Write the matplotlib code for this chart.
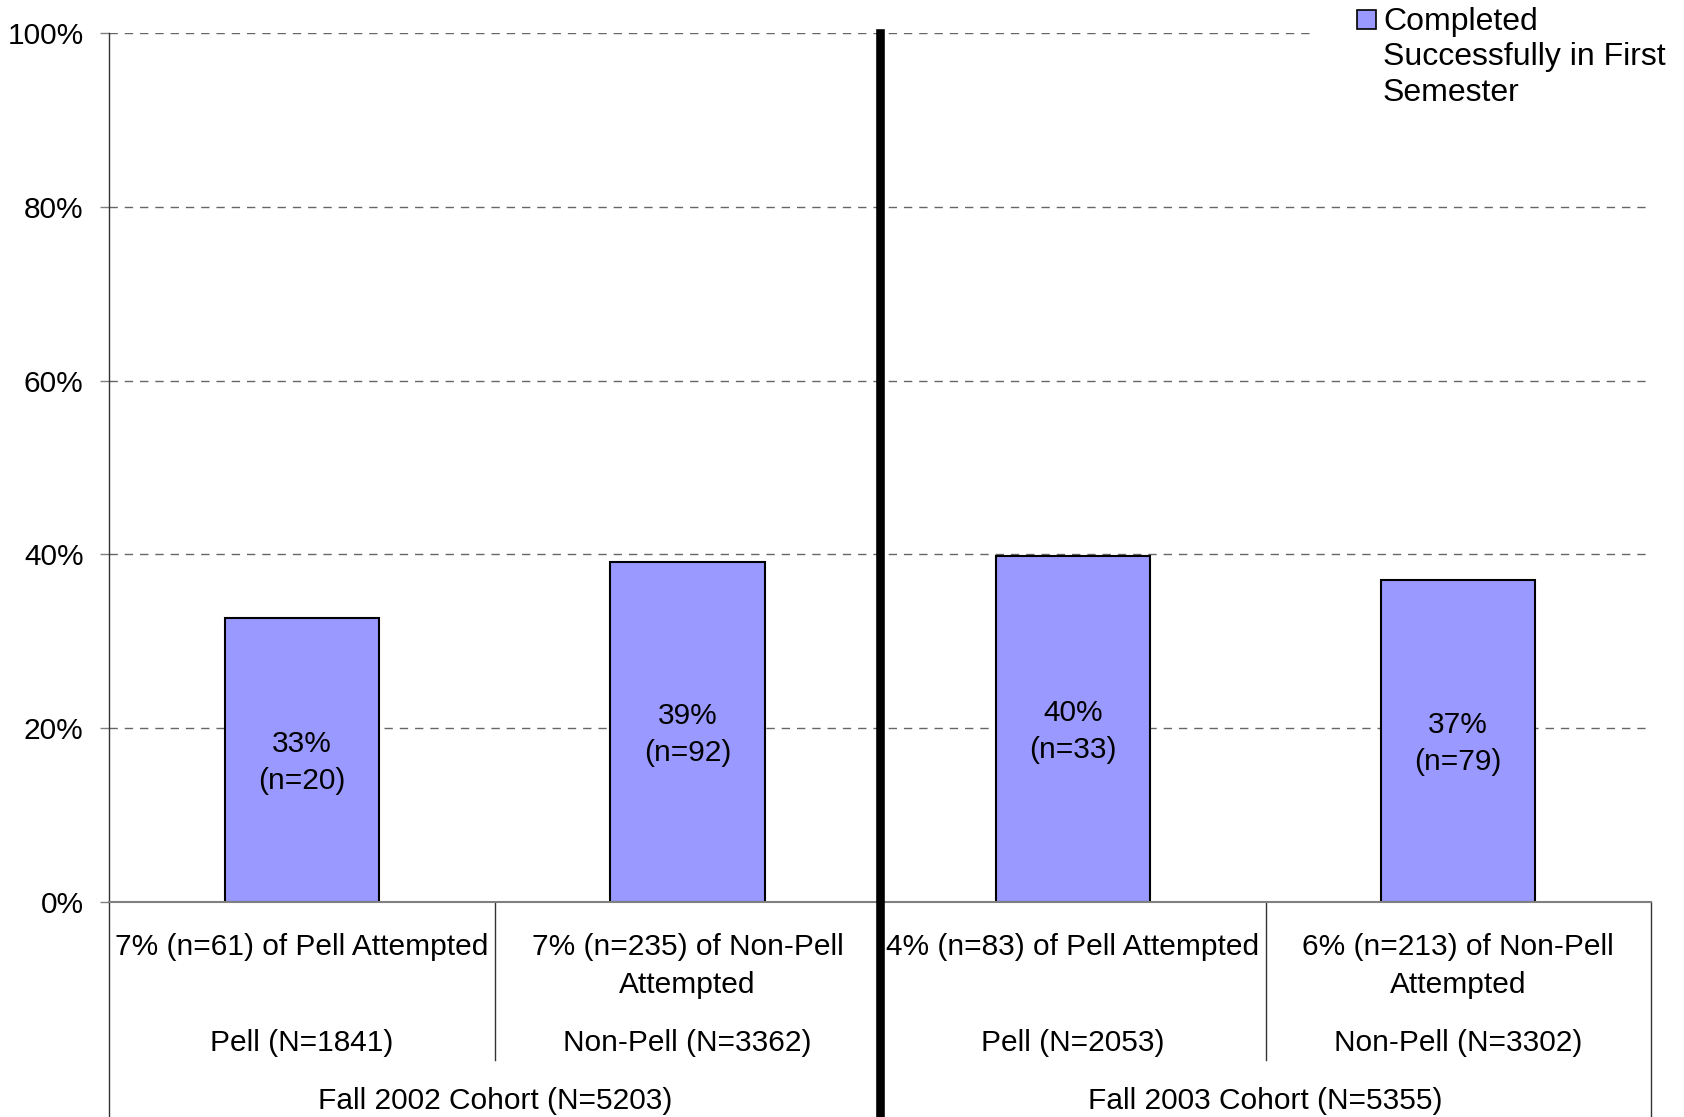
import numpy as np
import matplotlib.pyplot as plt
from matplotlib.patches import Rectangle

plt.rcParams['font.family'] = ['Liberation Sans', 'DejaVu Sans']

# completion rate (%) and count per group
completed = [32.7, 39.1, 39.8, 37.05]
counts = [20, 92, 33, 79]
attempted = ['7% (n=61) of Pell Attempted',
             '7% (n=235) of Non-Pell\nAttempted',
             '4% (n=83) of Pell Attempted',
             '6% (n=213) of Non-Pell\nAttempted']
groups = ['Pell (N=1841)', 'Non-Pell (N=3362)', 'Pell (N=2053)', 'Non-Pell (N=3302)']
cohorts = ['Fall 2002 Cohort (N=5203)', 'Fall 2003 Cohort (N=5355)']
yticks = [0, 20, 40, 60, 80, 100]
legend_label = 'Completed\nSuccessfully in First\nSemester'

W, H = 1684, 1117
fig = plt.figure(figsize=(W / 100, H / 100), dpi=100)
ax = fig.add_axes([109.3 / W, 1 - 902 / H, (1651 - 109.3) / W, 869 / H])

x = np.arange(len(completed))
ax.bar(x, completed, width=0.4, color='#9999ff', edgecolor='black', linewidth=1.5, zorder=2)
for i, v in enumerate(completed):
    ax.text(i, v / 2 - 0.3, f'{round(v)}%\n(n={counts[i]})', ha='center', va='center',
            fontsize=21.5, linespacing=1.4, zorder=3)

ax.set_xlim(-0.5, 3.5)
ax.set_ylim(0, 100)
ax.set_yticks(yticks)
ax.set_yticklabels([f'{t}%' for t in yticks])
ax.tick_params(axis='y', length=6.5, width=1, color='#808080', pad=12, labelsize=21.5)
ax.set_xticks([])
ax.yaxis.grid(True, linestyle=(0, (6, 5)), color='#666666', linewidth=1)
ax.set_axisbelow(True)
for s in ['top', 'right']:
    ax.spines[s].set_visible(False)
ax.spines['bottom'].set_color('#808080')
ax.spines['bottom'].set_linewidth(1.5)
ax.spines['left'].set_color('#333333')
ax.spines['left'].set_linewidth(1)

# multi-level category axis below the plot
trans = ax.get_xaxis_transform()
for xv in [-0.5, 3.5]:
    ax.plot([xv, xv], [0, -0.3], transform=trans, color='#333333', lw=1, clip_on=False)
for xv in [0.5, 2.5]:
    ax.plot([xv, xv], [0, -0.182], transform=trans, color='#333333', lw=1, clip_on=False)
ax.plot([1.5, 1.5], [1, -0.3], transform=trans, color='black', lw=6.2, clip_on=False, zorder=4)

line_step = 38 / 869  # distance between wrapped lines, in axes units
for i in range(len(attempted)):
    for k, line in enumerate(attempted[i].split('\n')):
        ax.text(i, -0.061 - k * line_step, line, transform=trans, ha='center',
                va='baseline', fontsize=21.5)
    ax.text(i, -0.1715, groups[i], transform=trans, ha='center', va='baseline', fontsize=21.5)
for j, label in enumerate(cohorts):
    ax.text(0.5 + 2 * j, -0.2382, label, transform=trans, ha='center', va='baseline', fontsize=21.5)

# legend, drawn by hand so the marker sits on the first line
ax.add_patch(Rectangle((0.783, 0.97), 0.3, 0.1, transform=ax.transAxes, facecolor='white',
                       edgecolor='none', clip_on=False, zorder=5))
fig.add_artist(Rectangle((1357 / W, 1 - 29 / H), 19 / W, 19 / H, transform=fig.transFigure,
                         facecolor='#9999ff', edgecolor='black', lw=1.2, zorder=6))
for k, line in enumerate(legend_label.split('\n')):
    fig.text(1383 / W, 1 - (30 + 35.5 * k) / H, line, ha='left', va='baseline',
             fontsize=23, zorder=6)

fig.savefig('out.png', dpi=100)
